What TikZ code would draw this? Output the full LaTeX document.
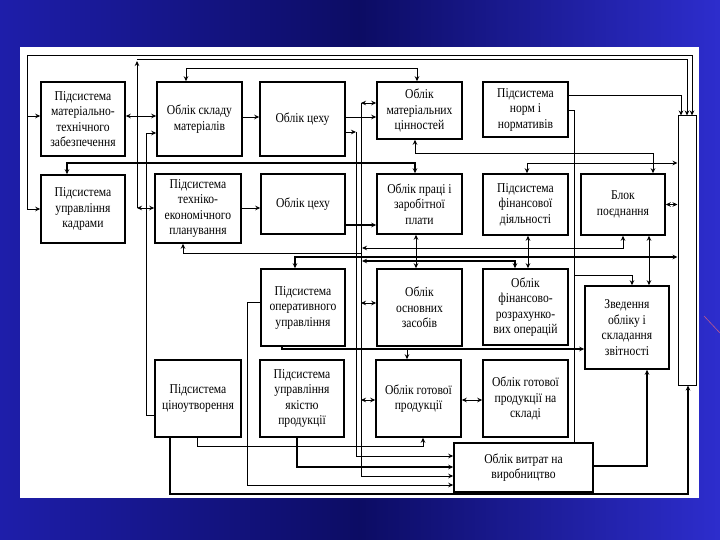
\documentclass[tikz,border=0pt]{standalone}
\usepackage{fontspec}
\setmainfont{Liberation Serif}[FakeStretch=0.86]
\usetikzlibrary{arrows.meta}
\definecolor{bgnavy}{RGB}{12,12,100}
\definecolor{bgblue}{RGB}{30,30,170}
\definecolor{bgright}{RGB}{45,45,205}
\definecolor{deco}{RGB}{190,90,140}
\tikzset{
  box/.style={draw, line width=1.5pt, fill=white, align=center, inner sep=0pt,
    font=\fontsize{13.5}{15.5}\selectfont},
  ln/.style={line width=0.9pt},
  tk/.style={line width=1.6pt},
  ar/.style={-{Stealth[length=5pt,width=4.5pt]}},
  ba/.style={{Stealth[length=5pt,width=4.5pt]}-{Stealth[length=5pt,width=4.5pt]}},
}
\begin{document}
\begin{tikzpicture}[x=1pt,y=-1pt]
\useasboundingbox (0,0) rectangle (720,540);
% background
\shade[left color=bgblue, right color=bgright, middle color=bgnavy] (0,0) rectangle (720,540);
\fill[white] (20,47) rectangle (699,498);
\draw[line width=0.6pt, deco] (704,316) -- (720,333);

% boxes
\node[box, minimum width=84pt, minimum height=74pt] (A1) at (83,119) {Підсистема\\матеріально-\\технічного\\забезпечення};
\node[box, minimum width=85pt, minimum height=74pt] (A2) at (199.5,119) {Облік складу\\матеріалів};
\node[box, minimum width=85pt, minimum height=74pt] (A3) at (302.5,119) {Облік цеху};
\node[box, minimum width=85pt, minimum height=57pt] (A4) at (419.5,110.5) {Облік\\матеріальних\\цінностей};
\node[box, minimum width=85pt, minimum height=55pt] (A5) at (525.5,109.5) {Підсистема\\норм і\\нормативів};
\node[draw, line width=1pt, fill=white, minimum width=18pt, minimum height=269pt, inner sep=0pt] (bar) at (687,250.5) {};

\node[box, minimum width=84pt, minimum height=68pt] (B1) at (83,209) {Підсистема\\управління\\кадрами};
\node[box, minimum width=86pt, minimum height=69pt] (B2) at (198,208.5) {Підсистема\\техніко-\\економічного\\планування};
\node[box, minimum width=84pt, minimum height=60pt] (B3) at (303,204) {Облік цеху};
\node[box, minimum width=85pt, minimum height=60pt] (B4) at (419.5,204) {Облік праці і\\заробітної\\плати};
\node[box, minimum width=85pt, minimum height=61pt] (B5) at (525.5,204.5) {Підсистема\\фінансової\\діяльності};
\node[box, minimum width=84pt, minimum height=61pt] (B6) at (623,204.5) {Блок\\поєднання};

\node[box, minimum width=84pt, minimum height=77pt] (C3) at (303,307.5) {Підсистема\\оперативного\\управління};
\node[box, minimum width=85pt, minimum height=77pt] (C4) at (419.5,307.5) {Облік\\основних\\засобів};
\node[box, minimum width=85pt, minimum height=76pt] (C5) at (525.5,307) {Облік\\фінансово-\\розрахунко-\\вих операцій};
\node[box, minimum width=84pt, minimum height=83pt] (C6) at (627,327.5) {Зведення\\обліку і\\складання\\звітності};

\node[box, minimum width=86pt, minimum height=77pt] (D2) at (198,398.5) {Підсистема\\ціноутворення};
\node[box, minimum width=84pt, minimum height=77pt] (D3) at (302,398.5) {Підсистема\\управління\\якістю\\продукції};
\node[box, minimum width=85pt, minimum height=77pt] (D4) at (418.5,398.5) {Облік готової\\продукції};
\node[box, minimum width=85pt, minimum height=77pt] (D5) at (525.5,398.5) {Облік готової\\продукції на\\складі};
\node[box, minimum width=139pt, minimum height=49pt] (E) at (523.5,467.5) {Облік витрат на\\виробництво};

% top and left frame lines
\draw[ln,ar] (27,116) -- (A1.west |- 0,116);
\draw[ln,ar] (27,55) -- (27,209) -- (B1.west |- 0,209);
\draw[ln,ar] (27,55) -- (692,55) -- (bar.north -| 692,0);
\draw[ln,ar] (137,208) -- (137,61);
\draw[ln,ar] (137,59) -- (687,59) -- (bar.north -| 687,0);
\draw[ln,ba] (137,208) -- (B2.west |- 0,208);
\draw[ln,ar] (A5.east |- 0,95) -- (681,95) -- (bar.north -| 681,0);

% row A
\draw[ln,ba] (A1.east |- 0,116) -- (A2.west |- 0,116);
\draw[ln,ar] (D2.west |- 0,415) -- (146,415) -- (146,133) -- (A2.west |- 0,133);
\draw[ln,ar] (A2.east |- 0,117) -- (A3.west |- 0,117);
\draw[ln,ar] (A3.east |- 0,117) -- (A4.west |- 0,117);
\draw[ln,ba] (A2.north -| 186,0) -- (186,68) -- (417,68) -- (A4.north -| 417,0);
\draw[ln,ar] (A3.east |- 0,132) -- (356,132);
\draw[ln,ar] (356,132) -- (356,456) -- (E.west |- 0,456);
\draw[ln,ba] (A4.west |- 0,103) -- (361,103);
\draw[ln,ar] (361,103) -- (361,476) -- (E.west |- 0,476);
\draw[ln,ar] (A5.east |- 0,110) -- (574,110) -- (574,275) -- (632,275) -- (C6.north -| 632,0);
\draw[ln] (574,275) -- (E.north -| 574,0);
\draw[ln,ba] (A4.south -| 415,0) -- (415,153) -- (653,153) -- (B6.north -| 653,0);

% row B
\draw[tk,ba] (B1.north -| 67,0) -- (67,163) -- (415,163) -- (B4.north -| 415,0);
\draw[ln,ba] (B5.north -| 527,0) -- (527,163) -- (bar.west |- 0,163);
\draw[ln,ar] (B2.east |- 0,208) -- (B3.west |- 0,208);
\draw[tk,ar] (B3.east |- 0,225) -- (B4.west |- 0,225);
\draw[ln,ba] (B4.south -| 416,0) -- (C4.north -| 416,0);
\draw[ln,ba] (B5.south -| 528,0) -- (C5.north -| 528,0);
\draw[ln,ba] (B6.south -| 649,0) -- (C6.north -| 649,0);
\draw[ln,ba] (B6.east) -- (B6.east -| bar.west);
\draw[ln,ba] (362,248) -- (623,248) -- (B6.south -| 623,0);
\draw[ln,ar] (361,253) -- (183,253) -- (B2.south -| 183,0);
\draw[tk,ba] (C3.north -| 295,0) -- (295,257) -- (bar.west |- 0,257);
\draw[tk,ba] (362,261) -- (515,261) -- (C5.north -| 515,0);

% row C
\draw[ln,ba] (361,303) -- (C4.west |- 0,303);
\draw[ln,ar] (C3.west |- 0,302) -- (247,302) -- (247,485) -- (E.west |- 0,485);
\draw[tk,ar] (C3.south -| 282,0) -- (282,349) -- (C6.west |- 0,349);
\draw[ln,ar] (407,349) -- (D4.north -| 407,0);

% row D
\draw[ln,ba] (361,400) -- (D4.west |- 0,400);
\draw[ln,ba] (D4.east |- 0,400) -- (D5.west |- 0,400);
\draw[ln,ar] (D2.south -| 197,0) -- (197,446) -- (423,446) -- (D4.south -| 423,0);
\draw[tk,ar] (D3.south -| 297,0) -- (297,467) -- (E.west |- 0,467);
\draw[tk,ar] (D2.south -| 170,0) -- (170,494) -- (688,494) -- (bar.south -| 688,0);
\draw[tk,ar] (E.east |- 0,466) -- (647,466) -- (C6.south -| 647,0);
\end{tikzpicture}
\end{document}
